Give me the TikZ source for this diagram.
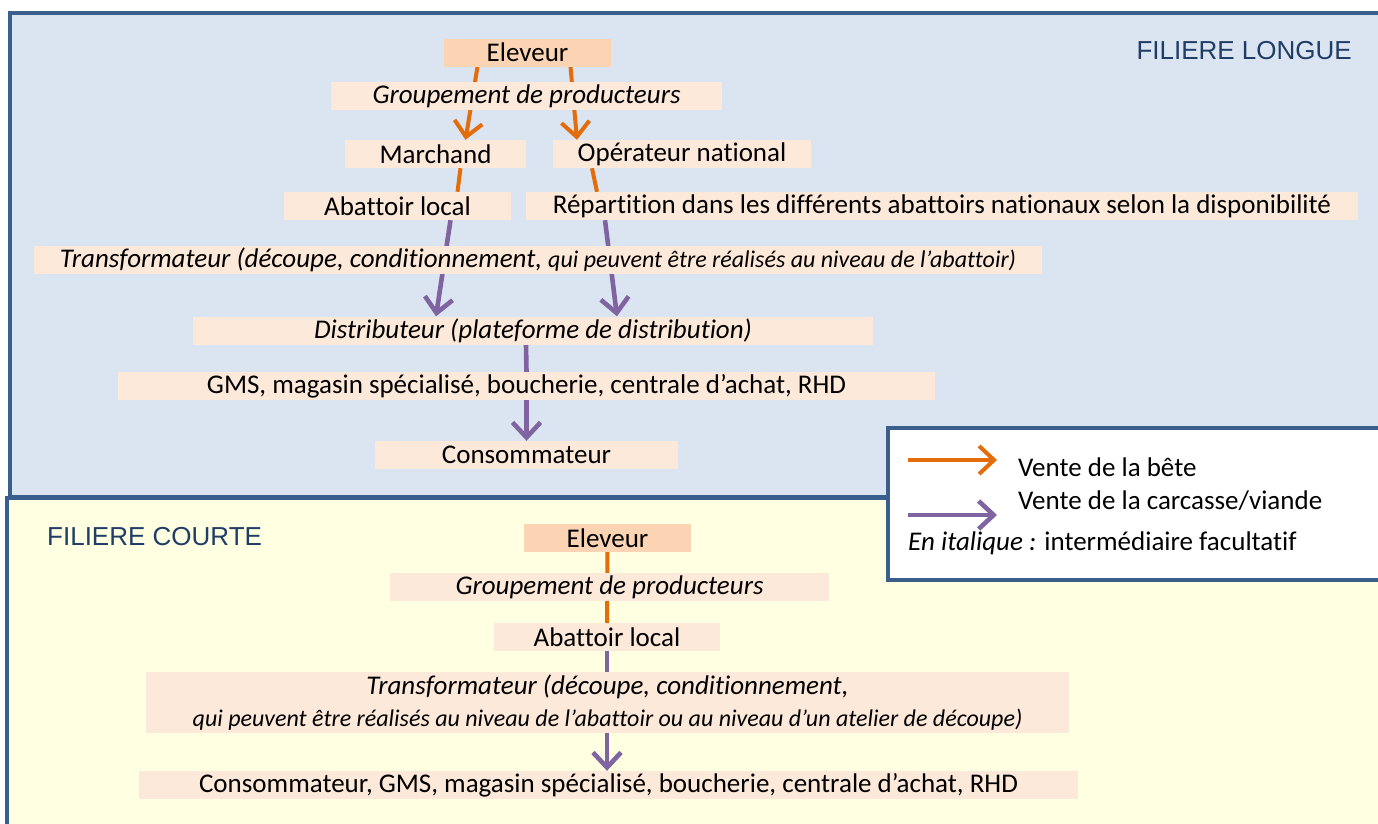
\documentclass[tikz,border=0pt]{standalone}
\usepackage{fontspec}
\setmainfont{Carlito}[Ligatures=NoCommon]
\newfontfamily\titlefont{Liberation Sans}
\usetikzlibrary{positioning,arrows.meta}
\definecolor{ciel}{HTML}{DBE5F1}
\definecolor{creme}{HTML}{FFFFE1}
\definecolor{cadre}{HTML}{3A5F8D}
\definecolor{peche}{HTML}{FDE9D9}
\definecolor{pechefonce}{HTML}{FBD4B4}
\definecolor{bete}{HTML}{E46C0A}
\definecolor{viande}{HTML}{8064A2}
\definecolor{titre}{HTML}{1F3D66}
\newcommand{\grand}{\fontsize{27}{32}\selectfont}
\newcommand{\petit}{\fontsize{24}{28}\selectfont}
\tikzstyle{maillon}=[fill=peche, inner sep=0pt, minimum height=28pt, font=\grand]
\tikzstyle{eleveur}=[maillon, fill=pechefonce]
\tikzstyle{venteBete}=[draw=bete, line width=4pt]
\tikzstyle{venteViande}=[draw=viande, line width=4.6pt]
\tikzstyle{pointe}=[-{Straight Barb[length=15pt,width=28pt]}]
\tikzstyle{panneau}=[draw=cadre, line width=4pt]
\tikzstyle{filiere}=[font=\titlefont\fontsize{26}{30}\selectfont, text=titre, inner sep=0pt]
\tikzstyle{legtexte}=[font=\grand, inner sep=0pt, anchor=west]
\pgfdeclarelayer{fond}
\pgfdeclarelayer{liens}
\pgfsetlayers{fond,liens,main}

\begin{document}
\begin{tikzpicture}[x=1pt, y=-1pt]
	\useasboundingbox (0,0) rectangle (1378,823);
	\clip (0,0) rectangle (1378,823);
	% filiere longue
	\node[filiere, anchor=east] (titreL) at (1352,51) {FILIERE LONGUE};
	\node[eleveur, minimum width=167pt] (eleveurL) at (527.5,52.5) {Eleveur};
	\node[maillon, minimum width=391pt, font=\grand\itshape] (groupL) at (526.5,96) {Groupement de producteurs};
	\node[maillon, minimum width=181pt] (marchand) at (435.5,154) {Marchand};
	\node[maillon, minimum width=258pt] (operateur) at (682,154) {Opérateur national};
	\node[maillon, minimum width=227pt] (abattoirL) at (397.5,206) {Abattoir local};
	\node[maillon, minimum width=832pt] (repartition) at (942,206) {Répartition dans les différents abattoirs nationaux selon la disponibilité};
	\node[maillon, minimum width=1008pt, font=\grand\itshape] (transfoL) at (538,260) {Transformateur (découpe, conditionnement, {\petit qui peuvent être réalisés au niveau de l’abattoir)}};
	\node[maillon, minimum width=680pt, font=\grand\itshape] (distrib) at (533,330.5) {Distributeur (plateforme de distribution)};
	\node[maillon, minimum width=817pt] (gms) at (526.5,386) {GMS, magasin spécialisé, boucherie, centrale d’achat, RHD};
	\node[maillon, minimum width=303pt] (consoL) at (526.5,455) {Consommateur};
	% filiere courte
	\node[filiere, anchor=west] (titreC) at (47,537) {FILIERE COURTE};
	\node[eleveur, minimum width=167pt] (eleveurC) at (607.5,538) {Eleveur};
	\node[maillon, minimum width=439pt, font=\grand\itshape] (groupC) at (609.5,587) {Groupement de producteurs};
	\node[maillon, minimum width=226pt] (abattoirC) at (607,637) {Abattoir local};
	\node[maillon, minimum width=923pt, minimum height=61pt, align=center, font=\grand\itshape] (transfoC) at (607.5,702.5) {Transformateur (découpe, conditionnement,\\{\petit qui peuvent être réalisés au niveau de l’abattoir ou au niveau d’un atelier de découpe)}};
	\node[maillon, minimum width=939pt] (consoC) at (608.5,785) {Consommateur, GMS, magasin spécialisé, boucherie, centrale d’achat, RHD};
	% legende
	\draw[panneau, fill=white] (888,428) rectangle (1400,580);
	\coordinate (beteA) at (908,460);
	\coordinate (beteB) at (997,460);
	\coordinate (viandeA) at (908,515);
	\coordinate (viandeB) at (997,515);
	\draw[venteBete, pointe] (beteA) -- (beteB);
	\draw[venteViande, pointe] (viandeA) -- (viandeB);
	\node[legtexte, right=21pt of beteB, yshift=-7pt] (legBete) {Vente de la bête};
	\node[legtexte, right=21pt of viandeB, yshift=14pt] (legViande) {Vente de la carcasse/viande};
	\node[legtexte] (legItal) at (908,543) {\textit{En italique :} intermédiaire facultatif};

	\begin{pgfonlayer}{fond}
		\draw[panneau, fill=ciel] (10,13) rectangle (1400,497);
		\draw[panneau, fill=creme] (7,498) rectangle (1400,840);
	\end{pgfonlayer}
	\begin{pgfonlayer}{liens}
		\draw[venteBete, pointe] ([xshift=-50pt]eleveurL.south) -- ([xshift=30pt]marchand.north);
		\draw[venteBete, pointe] ([xshift=43pt]eleveurL.south) -- ([xshift=-105pt]operateur.north);
		\draw[venteBete] ([xshift=25pt]marchand.south) -- ([xshift=60pt]abattoirL.north);
		\draw[venteBete] ([xshift=-90pt]operateur.south) -- ([xshift=-345pt]repartition.north);
		\draw[venteViande, pointe] ([xshift=53pt]abattoirL.south) -- ([xshift=-97pt]distrib.north);
		\draw[venteViande, pointe] ([xshift=-337pt]repartition.south) -- ([xshift=84pt]distrib.north);
		\draw[venteViande] ([xshift=-7pt]distrib.south) -- (gms.north);
		\draw[venteViande, pointe] (gms.south) -- (consoL.north);
		\draw[venteBete] (eleveurC) -- (abattoirC);
		\draw[venteViande, pointe] (abattoirC.south) -- (consoC.north -| abattoirC.south);
	\end{pgfonlayer}
\end{tikzpicture}
\end{document}
